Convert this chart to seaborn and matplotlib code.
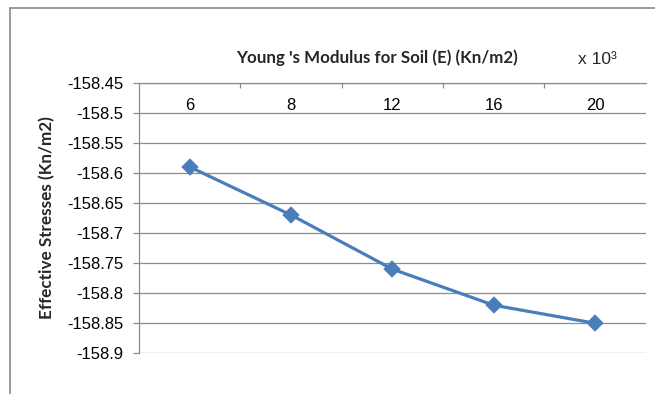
import matplotlib
matplotlib.use("Agg")
import matplotlib.pyplot as plt
from matplotlib.lines import Line2D
import seaborn as sns

# Young's modulus categories (x 10^3 Kn/m2) and resulting effective stresses
modulus = ["6", "8", "12", "16", "20"]
stress = [-158.59, -158.67, -158.76, -158.82, -158.85]

# Value axis ticks
y_ticks = [-158.45, -158.5, -158.55, -158.6, -158.65, -158.7, -158.75, -158.8, -158.85, -158.9]
y_tick_labels = ["-158.45", "-158.5", "-158.55", "-158.6", "-158.65",
                 "-158.7", "-158.75", "-158.8", "-158.85", "-158.9"]

sns.set_theme(style="white")
plt.rcParams["font.family"] = ["Liberation Sans", "DejaVu Sans"]

W, H = 655, 394
fig = plt.figure(figsize=(W / 100, H / 100), dpi=100)
ax = fig.add_axes([139 / W, 1 - 353.3 / H, (645.7 - 139) / W, (353.3 - 82.7) / H])

line_blue = "#4a7ebb"
grid_grey = "#8c8c8c"

sns.pointplot(x=modulus, y=stress, ax=ax, color=line_blue, markers="D",
              linestyles="-", markersize=7.5, linewidth=2.3, errorbar=None)

ax.set_xlim(-0.5, len(modulus) - 0.5)
ax.set_ylim(y_ticks[-1], y_ticks[0])
ax.set_yticks(y_ticks)
ax.set_yticklabels(y_tick_labels)

# horizontal gridlines
ax.yaxis.grid(True, color=grid_grey, linewidth=0.9)
ax.xaxis.grid(False)
ax.set_axisbelow(True)

for side in ["bottom", "right"]:
    ax.spines[side].set_visible(False)
for side in ["top", "left"]:
    ax.spines[side].set_visible(True)
    ax.spines[side].set_color(grid_grey)
    ax.spines[side].set_linewidth(0.9)

# category labels sit just under the top axis line
ax.set_xticks(range(len(modulus)))
ax.set_xticklabels(modulus)
ax.set_xticks([i + 0.5 for i in range(len(modulus) - 1)], minor=True)
ax.tick_params(axis="x", which="major", top=True, bottom=False, labeltop=True,
               labelbottom=False, length=0, pad=-16.5, labelsize=12, colors="black")
ax.tick_params(axis="x", which="minor", top=True, bottom=False, direction="in",
               length=3.5, width=0.9, color=grid_grey)
for lbl in ax.get_xticklabels():
    lbl.set_verticalalignment("center")
ax.tick_params(axis="y", left=True, direction="out", length=4.5, width=0.9,
               color=grid_grey, pad=7, labelsize=12, labelcolor="black")
ax.set_xlabel("")

ax.set_ylabel("Effective Stresses (Kn/m2)", fontsize=12.3, fontweight="bold",
              family=["Lato", "DejaVu Sans"])
ax.yaxis.set_label_coords((55 - 139) / (645.7 - 139), 0.5)

fig.text(377 / W, 1 - 58 / H, "Young 's Modulus for Soil (E) (Kn/m2)",
         ha="center", va="center", fontsize=12.2, fontweight="bold",
         family=["Lato", "DejaVu Sans"])
fig.text(597 / W, 1 - 60 / H, "x 10³", ha="center", va="center", fontsize=12.5)

# chart area frame
fig.add_artist(Line2D([9.5 / W, 1], [1 - 7.5 / H, 1 - 7.5 / H], color="#8a8a8a", lw=1.2))
fig.add_artist(Line2D([9.5 / W, 9.5 / W], [0, 1 - 7.5 / H], color="#8a8a8a", lw=1.2))

fig.savefig("out.png", dpi=100, facecolor="white")
